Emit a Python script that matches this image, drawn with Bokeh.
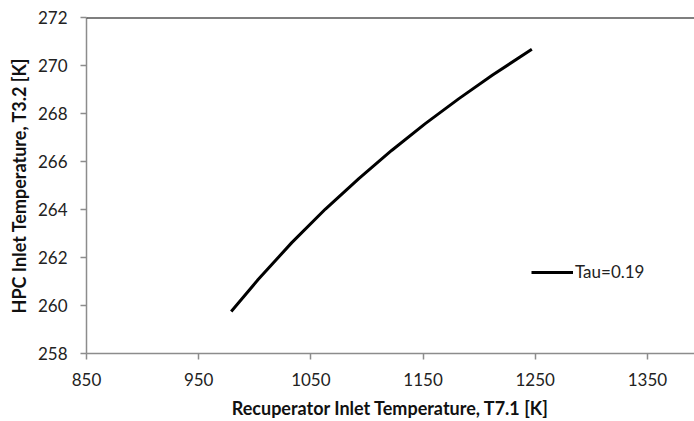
from bokeh.plotting import figure
from bokeh.models import Range1d, Span, Legend, LegendItem, FixedTicker
from bokeh.embed import file_html
from bokeh.resources import INLINE

# Data
t71 = [979, 1003, 1033, 1063, 1093, 1122, 1152, 1182, 1212, 1247]
t32 = [259.75, 261.08, 262.62, 264.02, 265.30, 266.46, 267.58, 268.62, 269.60, 270.68]
series_name = "Tau=0.19"
x_ticks = [850, 950, 1050, 1150, 1250, 1350]
y_ticks = [258, 260, 262, 264, 266, 268, 270, 272]

FONT = "Lato"

p = figure(width=694, height=421, output_backend="svg", toolbar_location=None,
           x_range=Range1d(850, 1392), y_range=Range1d(258, 272),
           min_border_left=86, min_border_right=0, min_border_top=17, min_border_bottom=68)
p.outline_line_color = None
p.xgrid.grid_line_color = None
p.ygrid.grid_line_color = None

r = p.line(t71, t32, line_color="black", line_width=3)

top = Span(location=272, dimension="width", line_color="black", line_width=2)
p.add_layout(top)

for ax in (p.xaxis[0], p.yaxis[0]):
    ax.axis_line_color = "#8c8c8c"
    ax.axis_line_width = 1.5
    ax.major_tick_line_color = "#8c8c8c"
    ax.major_tick_line_width = 1.5
    ax.major_tick_in = 0
    ax.major_tick_out = 6
    ax.minor_tick_line_color = None
    ax.major_label_text_font = FONT
    ax.major_label_text_font_size = "17px"
    ax.major_label_text_color = "#222222"
    ax.axis_label_text_font = FONT
    ax.axis_label_text_font_size = "18px"
    ax.axis_label_text_font_style = "bold"
    ax.axis_label_text_color = "#111111"

p.xaxis.ticker = FixedTicker(ticks=x_ticks)
p.yaxis.ticker = FixedTicker(ticks=y_ticks)
p.xaxis.axis_label = "Recuperator Inlet Temperature, T7.1 [K]"
p.yaxis.axis_label = "HPC Inlet Temperature, T3.2 [K]"
p.xaxis.major_label_standoff = 13
p.yaxis.major_label_standoff = 13
p.xaxis.axis_label_standoff = 8
p.yaxis.axis_label_standoff = 5

legend = Legend(items=[LegendItem(label=series_name, renderers=[r])],
                location=(445, 71), padding=0, margin=0, spacing=0,
                glyph_width=42, glyph_height=18, label_height=18,
                label_standoff=2, border_line_color=None,
                background_fill_alpha=0,
                label_text_font=FONT, label_text_font_size="17px",
                label_text_color="#222222")
p.add_layout(legend)

open("out.html", "w").write(file_html(p, INLINE))
